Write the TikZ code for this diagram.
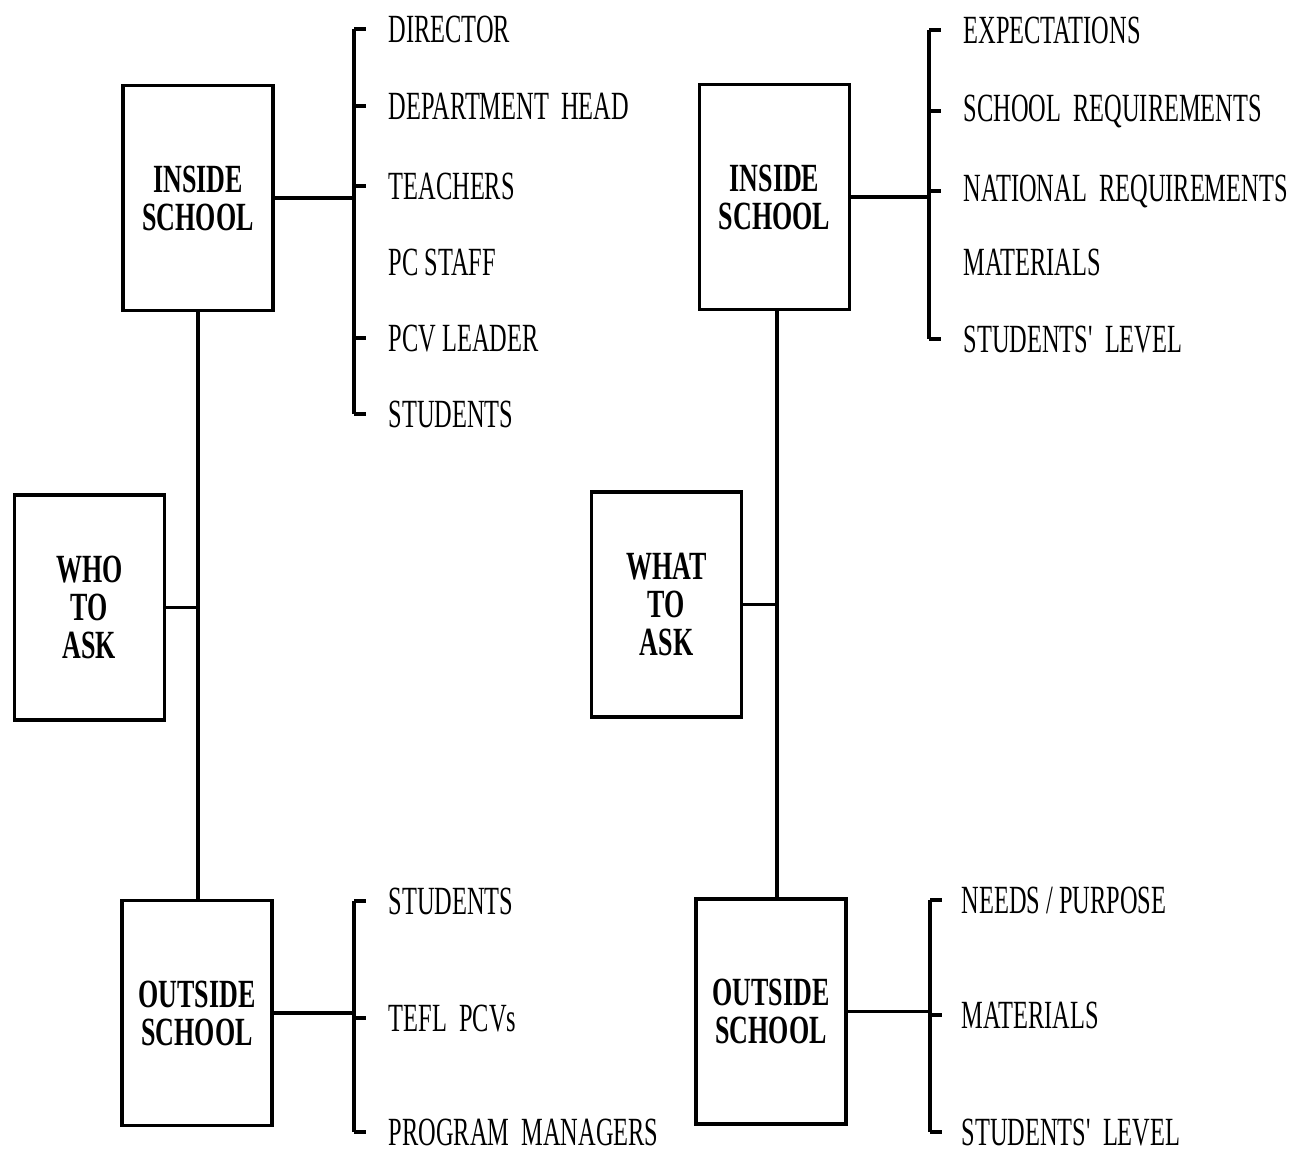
\documentclass[tikz,border=0pt]{standalone}
\usepackage{fontspec}
\newfontfamily\labfont{Liberation Serif}[FakeStretch=0.61]
\newfontfamily\boxfont{Liberation Serif}[FakeStretch=0.65]
\begin{document}
\begin{tikzpicture}[x=0.5pt,y=-0.5pt,line width=1.7pt,
  box/.style={draw,line width=1.9pt,minimum width=75pt,minimum height=112.5pt,inner sep=0pt,align=center,
    font=\boxfont\bfseries\fontsize{20}{19}\selectfont},
  lab/.style={anchor=base west,inner sep=0pt,font=\labfont\fontsize{20}{24}\selectfont},
  tick/.style={line width=1.7pt}]
\useasboundingbox (0,0) rectangle (1316,1153);

% ---------------- left half: WHO TO ASK
\node[box] (insL) at (198,198) {INSIDE\\SCHOOL};
\node[box] (who)  at (89.5,607.5) {WHO\\TO\\ASK};
\node[box] (outL) at (197,1013) {OUTSIDE\\SCHOOL};

\node[lab] (a1) at (387,42)  {DIRECTOR};
\node[lab] (a2) at (387,119) {DEPARTMENT\ \ HEAD};
\node[lab] (a3) at (387,199) {TEACHERS};
\node[lab] (a4) at (387,275) {PC STAFF};
\node[lab] (a5) at (387,351) {PCV LEADER};
\node[lab] (a6) at (387,427) {STUDENTS};

\node[lab] (b1) at (387,914)  {STUDENTS};
\node[lab] (b2) at (387,1031) {TEFL\ \ PCVs};
\node[lab] (b3) at (387,1145) {PROGRAM\ \ MANAGERS};

\coordinate (bxA) at (354,0);
\coordinate (bxB) at (354,0);

\draw (insL.south) -- (insL.south |- outL.north);
\draw (who.east) -- (who.east -| insL.south);

\draw (insL.east) -- (insL.east -| bxA);
\draw (a1.west -| bxA) -- (a6.west -| bxA);
\foreach \n in {a1,a2,a3,a5,a6} \draw[tick] (\n.west -| bxA) -- ++(12,0);

\draw (outL.east) -- (outL.east -| bxB);
\draw (b1.west -| bxB) -- (b3.west -| bxB);
\foreach \n in {b1,b2,b3} \draw[tick] (\n.west -| bxB) -- ++(12,0);

% ---------------- right half: WHAT TO ASK
\node[box] (insR) at (774.5,197) {INSIDE\\SCHOOL};
\node[box] (what) at (666.5,604.5) {WHAT\\TO\\ASK};
\node[box] (outR) at (771,1011.5) {OUTSIDE\\SCHOOL};

\node[lab] (c1) at (962,43)  {EXPECTATIONS};
\node[lab] (c2) at (962,121) {SCHOOL\ \ REQUIREMENTS};
\node[lab] (c3) at (962,201) {NATIONAL\ \ REQUIREMENTS};
\node[lab] (c4) at (962,275) {MATERIALS};
\node[lab] (c5) at (962,352) {STUDENTS'\ \ LEVEL};

\node[lab] (e1) at (960,913)  {NEEDS / PURPOSE};
\node[lab] (e2) at (960,1028) {MATERIALS};
\node[lab] (e3) at (960,1145) {STUDENTS'\ \ LEVEL};

\coordinate (bxC) at (929,0);
\coordinate (bxE) at (930,0);
\coordinate (vR) at (777,0);

\draw (insR.south -| vR) -- (outR.north -| vR);
\draw (what.east) -- (what.east -| vR);

\draw (insR.east) -- (insR.east -| bxC);
\draw (c1.west -| bxC) -- (c5.west -| bxC);
\foreach \n in {c1,c2,c3,c5} \draw[tick] (\n.west -| bxC) -- ++(12,0);

\draw (outR.east) -- (outR.east -| bxE);
\draw (e1.west -| bxE) -- (e3.west -| bxE);
\foreach \n in {e1,e2,e3} \draw[tick] (\n.west -| bxE) -- ++(12,0);
\end{tikzpicture}
\end{document}
